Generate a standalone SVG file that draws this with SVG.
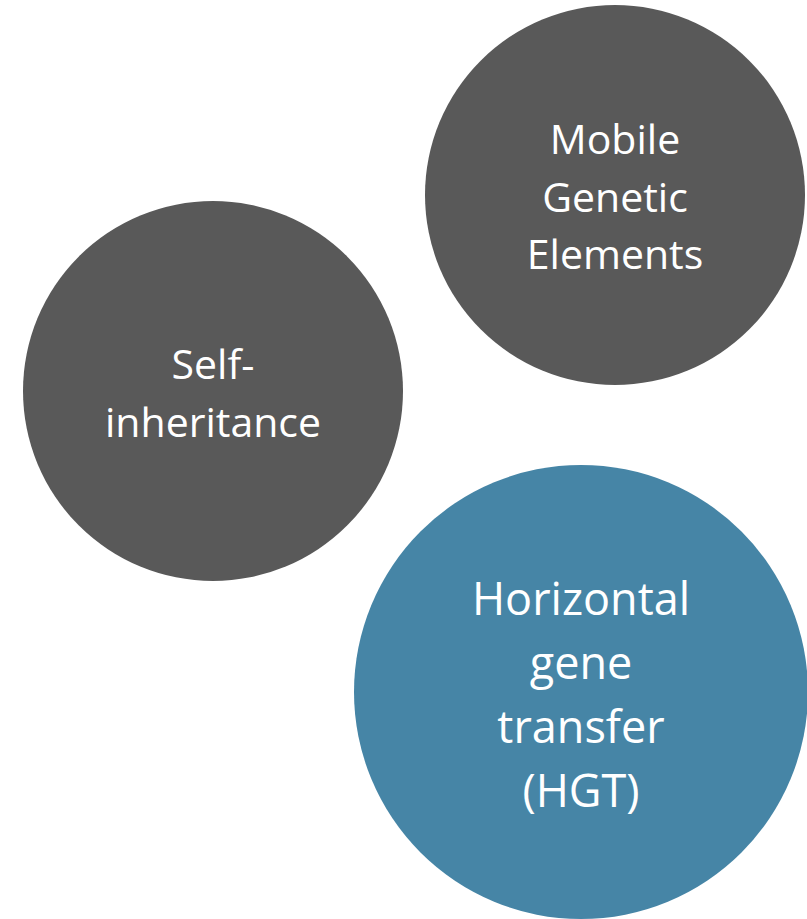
<svg xmlns="http://www.w3.org/2000/svg" width="807" height="919" viewBox="0 0 807 919">
  <style>
    .grey { fill: #595959; }
    .blue { fill: #4685a6; }
    .label { fill: #ffffff; font-family: "Open Sans", "Noto Sans", "Liberation Sans", sans-serif; text-anchor: middle; }
    .sm { font-size: 41px; }
    .lg { font-size: 45px; }
  </style>
  <rect width="807" height="919" fill="#ffffff"/>
  <g id="connectors"></g>
  <g id="node-mobile-genetic-elements">
    <circle class="grey" cx="615" cy="195" r="190"/>
    <text class="label sm" x="615" y="154">Mobile</text>
    <text class="label sm" x="615" y="212">Genetic</text>
    <text class="label sm" x="615" y="269">Elements</text>
  </g>
  <g id="node-self-inheritance">
    <circle class="grey" cx="213" cy="391" r="190"/>
    <text class="label sm" x="213" y="379">Self-</text>
    <text class="label sm" x="213" y="437">inheritance</text>
  </g>
  <g id="node-hgt">
    <circle class="blue" cx="581" cy="692" r="227"/>
    <text class="label lg" x="581" y="615">Horizontal</text>
    <text class="label lg" x="581" y="679">gene</text>
    <text class="label lg" x="581" y="743">transfer</text>
    <text class="label lg" x="581" y="807">(HGT)</text>
  </g>
</svg>
